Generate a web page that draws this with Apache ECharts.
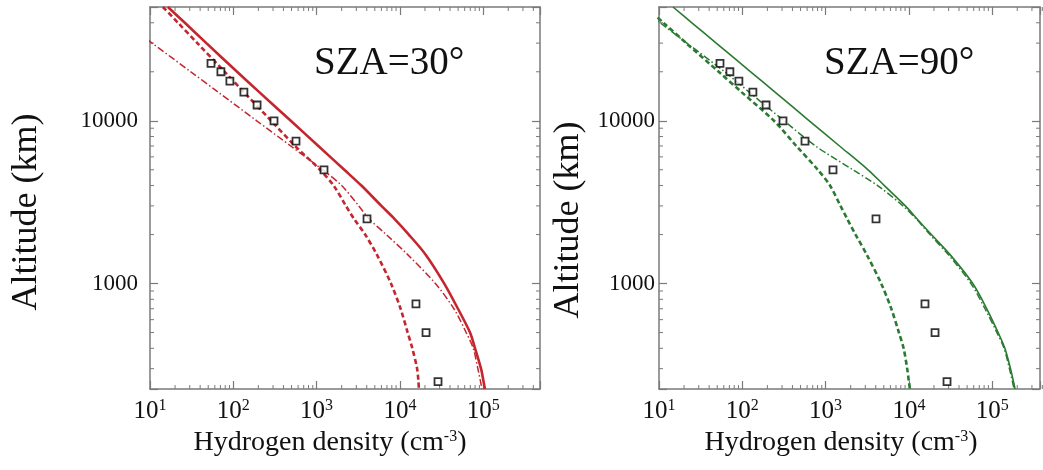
<!DOCTYPE html>
<html>
<head>
<meta charset="utf-8">
<script src="https://cdn.jsdelivr.net/npm/echarts@6/dist/echarts.min.js"></script>
<style>
html, body { margin: 0; padding: 0; background: #fff; }
#chart { width: 1043px; height: 470px; }
</style>
</head>
<body>
<div id="chart"></div>
<script>
// altitude grid (km) shared by the model curves
var altitudeKm = [50000, 40000, 30000, 20000, 15000, 10000, 7000, 5000, 4000, 3000, 2500, 2000, 1500, 1000, 700, 500, 400, 300, 250, 225];

// SZA = 30 deg (red)
var sza30Solid   = [16.4, 26.2, 47.5, 111, 205, 490, 1050, 2150, 3450, 6000, 8600, 12800, 20500, 34100, 49800, 69500, 79800, 94200, 101000, 105000];
var sza30Dashed  = [14.3, 21.7, 37, 78.7, 134, 285, 551, 1100, 1600, 2250, 2810, 3830, 5310, 7820, 10200, 12400, 14100, 16100, 16700, 16900];
var sza30DashDot = [2.8, 5.0, 10.6, 30.9, 65.7, 191, 489, 1183, 2000, 3210, 4260, 6870, 12500, 26700, 44500, 62500, 76000, 86300, 93000, 96800];

// SZA = 90 deg (green)
var sza90Solid   = [14.7, 24.8, 48.6, 126, 247, 637, 1470, 3230, 5080, 9080, 12500, 18600, 31400, 58500, 86100, 118000, 142000, 166000, 180000, 188000];
var sza90Dashed  = [6.9, 11.3, 21.2, 52.1, 98, 240, 446, 806, 1130, 1510, 1815, 2290, 3130, 4650, 6150, 7590, 8640, 9540, 10000, 10300];
var sza90DashDot = [5.8, 10.3, 21.6, 61.5, 121, 317, 757, 2130, 4210, 8490, 12200, 17900, 29900, 55600, 82000, 114000, 139000, 161000, 175000, 183000];

// observations (squares), same in both panels
var obsAltitudeKm = [22500, 20000, 17500, 15000, 12500, 10000, 7500, 5000, 2500, 750, 500, 250];
var obsDensity    = [54, 71, 91, 134, 193, 308, 566, 1227, 4030, 15600, 20600, 28700];

// axis ranges and minor ticks
var densityMin = 10;
var densityMaxLeft = 481000;
var densityMaxRight = 375000;
var altMin = 225;
var altMax = 50000;
var xMinorTicks = [20, 30, 40, 50, 60, 70, 80, 90, 200, 300, 400, 500, 600, 700, 800, 900,
    2000, 3000, 4000, 5000, 6000, 7000, 8000, 9000, 20000, 30000, 40000, 50000, 60000, 70000, 80000, 90000,
    200000, 300000, 400000];
var yMinorTicks = [300, 400, 500, 600, 700, 800, 900, 2000, 3000, 4000, 5000, 6000, 7000, 8000, 9000, 20000, 30000, 40000];

var serif = "'Liberation Serif', 'Times New Roman', serif";
var frameColor = '#7a7a7a';
var red = '#c4262e';
var green = '#2b7a31';

function pairs(xs, ys) {
    return ys.map(function (y, i) { return [xs[i], y]; });
}

function isPow10(v) {
    var l = Math.log10(v);
    return Math.abs(l - Math.round(l)) < 1e-6;
}

function xAxisDef(gridIndex, position, max, showName, namePad) {
    return {
        type: 'log', logBase: 10, gridIndex: gridIndex, position: position,
        min: densityMin, max: max,
        axisLine: { show: true, lineStyle: { color: frameColor, width: 1.5 } },
        axisTick: { show: true, inside: true, length: 8, lineStyle: { color: frameColor, width: 1.2 } },
        splitLine: { show: false },
        axisLabel: {
            show: position === 'bottom', margin: 9,
            formatter: function (v) {
                if (!isPow10(v)) return '';
                return '{b|10}{s|' + Math.round(Math.log10(v)) + '}';
            },
            rich: {
                b: { fontSize: 25, fontFamily: serif, color: '#111', lineHeight: 26 },
                s: { fontSize: 16, fontFamily: serif, color: '#111', verticalAlign: 'top', lineHeight: 16 }
            }
        },
        name: showName ? 'Hydrogen density (cm{s|-3})' : '',
        nameLocation: 'middle', nameGap: 15,
        nameTextStyle: {
            fontSize: 28, fontFamily: serif, color: '#111', padding: namePad,
            rich: { s: { fontSize: 16, fontFamily: serif, color: '#111', verticalAlign: 'top', lineHeight: 16 } }
        }
    };
}

function yAxisDef(gridIndex, position, showName, nameGap, namePad, labelMargin) {
    return {
        type: 'log', logBase: 10, gridIndex: gridIndex, position: position,
        min: altMin, max: altMax,
        axisLine: { show: true, lineStyle: { color: frameColor, width: 1.5 } },
        axisTick: { show: true, inside: true, length: 8, lineStyle: { color: frameColor, width: 1.2 } },
        splitLine: { show: false },
        axisLabel: {
            show: position === 'left', margin: labelMargin,
            fontSize: 23, fontFamily: serif, color: '#111',
            formatter: function (v) { return isPow10(v) ? String(Math.round(v)) : ''; }
        },
        name: showName ? 'Altitude (km)' : '',
        nameLocation: 'middle', nameGap: nameGap,
        nameTextStyle: { fontSize: 36, fontFamily: serif, color: '#111', padding: namePad }
    };
}

function xMinorRender(params, api) {
    var cs = params.coordSys;
    var x = api.coord([api.value(0), altMin])[0];
    var st = { stroke: frameColor, lineWidth: 1 };
    return { type: 'group', children: [
        { type: 'line', shape: { x1: x, y1: cs.y + cs.height, x2: x, y2: cs.y + cs.height - 4 }, style: st },
        { type: 'line', shape: { x1: x, y1: cs.y, x2: x, y2: cs.y + 4 }, style: st }
    ] };
}

function yMinorRender(params, api) {
    var cs = params.coordSys;
    var y = api.coord([densityMin, api.value(1)])[1];
    var st = { stroke: frameColor, lineWidth: 1 };
    return { type: 'group', children: [
        { type: 'line', shape: { x1: cs.x, y1: y, x2: cs.x + 4, y2: y }, style: st },
        { type: 'line', shape: { x1: cs.x + cs.width, y1: y, x2: cs.x + cs.width - 4, y2: y }, style: st }
    ] };
}

function lineSeries(xi, yi, dens, color, width, dash) {
    return {
        type: 'line', xAxisIndex: xi, yAxisIndex: yi,
        data: pairs(dens, altitudeKm),
        showSymbol: false, symbol: 'none', smooth: 0.3, clip: true,
        lineStyle: { color: color, width: width, type: dash }
    };
}

function obsSeries(xi, yi) {
    return {
        type: 'scatter', xAxisIndex: xi, yAxisIndex: yi,
        data: pairs(obsDensity, obsAltitudeKm),
        symbol: 'rect', symbolSize: 7, z: 5,
        itemStyle: { color: '#fff', borderColor: '#000', borderWidth: 1.8 }
    };
}

function minorSeries(xi, yi) {
    return [
        { type: 'custom', xAxisIndex: xi, yAxisIndex: yi, silent: true, z: 3,
          renderItem: xMinorRender, data: xMinorTicks.map(function (v) { return [v, altMin]; }) },
        { type: 'custom', xAxisIndex: xi, yAxisIndex: yi, silent: true, z: 3,
          renderItem: yMinorRender, data: yMinorTicks.map(function (v) { return [densityMin, v]; }) }
    ];
}

var chart = echarts.init(document.getElementById('chart'), null, { renderer: 'canvas' });

var option = {
    backgroundColor: '#fff',
    animation: false,
    title: [
        { text: 'SZA=30°', left: 314, top: 44, padding: 0,
          textStyle: { fontSize: 39, fontWeight: 'normal', fontFamily: serif, color: '#111' } },
        { text: 'SZA=90°', left: 824, top: 44, padding: 0,
          textStyle: { fontSize: 39, fontWeight: 'normal', fontFamily: serif, color: '#111' } }
    ],
    grid: [
        { left: 150, top: 7, width: 390, height: 382 },
        { left: 659, top: 7, width: 381, height: 382 }
    ],
    xAxis: [
        xAxisDef(0, 'bottom', densityMaxLeft, true, [0, 30, 0, 0]),
        xAxisDef(0, 'top', densityMaxLeft, false, 0),
        xAxisDef(1, 'bottom', densityMaxRight, true, [0, 17, 0, 0]),
        xAxisDef(1, 'top', densityMaxRight, false, 0)
    ],
    yAxis: [
        yAxisDef(0, 'left', true, 105, [0, 28, 0, 0], 12),
        yAxisDef(0, 'right', false, 0, 0, 8),
        yAxisDef(1, 'left', true, 72, [0, 44, 0, 0], 4),
        yAxisDef(1, 'right', false, 0, 0, 8)
    ],
    series: [
        lineSeries(0, 0, sza30DashDot, red, 1.5, [7, 2.5, 1.5, 2.5]),
        lineSeries(0, 0, sza30Dashed, red, 2.6, [5, 3]),
        lineSeries(0, 0, sza30Solid, red, 2.6, 'solid'),
        obsSeries(0, 0),
        lineSeries(2, 2, sza90DashDot, green, 1.5, [7, 2.5, 1.5, 2.5]),
        lineSeries(2, 2, sza90Dashed, green, 2.6, [5, 3]),
        lineSeries(2, 2, sza90Solid, green, 1.6, 'solid'),
        obsSeries(2, 2)
    ].concat(minorSeries(0, 0), minorSeries(2, 2))
};

chart.setOption(option);
</script>
</body>
</html>
